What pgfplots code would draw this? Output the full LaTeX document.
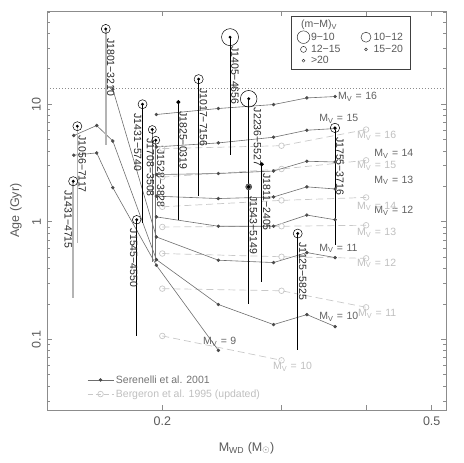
\documentclass[border=0pt]{standalone}
\usepackage{pgfplots}
\pgfplotsset{compat=1.18}
\usepackage{fontspec}
\setmainfont{Liberation Sans}

\definecolor{sertrk}{HTML}{6E6E6E}
\definecolor{serdot}{HTML}{4A4A4A}
\definecolor{bertrk}{HTML}{C8C8C8}
\definecolor{axgray}{HTML}{8C8C8C}
\definecolor{txtgray}{HTML}{5A5A5A}
\definecolor{objgray}{HTML}{B4B4B4}

% circle with a dot in the middle: radius = mark size
\pgfdeclareplotmark{cdot}{%
  \pgfpathcircle{\pgfpoint{0pt}{0pt}}{\pgfplotmarksize}\pgfusepathqstroke
  \pgfpathcircle{\pgfpoint{0pt}{0pt}}{1.6pt}\pgfusepathqfill}

\pgfplotsset{
  ser/.style={sertrk, line width=0.6pt, mark=*, mark size=1.4pt, mark options={serdot, solid}, forget plot},
  ber/.style={bertrk, line width=0.7pt, dash pattern=on 7pt off 4pt, mark=o, mark size=2.8pt, mark options={solid, bertrk}, forget plot},
  obj/.style={black, line width=0.6pt, mark=cdot, mark indices={1}, mark options={black, line width=0.5pt, solid}, forget plot},
}
\tikzset{
  lbl/.style={inner sep=0pt, font=\fontsize{10.5}{12}\selectfont, text=black!85},
  rlbl/.style={lbl, xshift=1pt, yshift=-9pt, rotate=-90, anchor=south west},
  llbl/.style={lbl, xshift=-1pt, yshift=-9pt, rotate=-90, anchor=north west},
  sl/.style={inner sep=0pt, anchor=west, font=\fontsize{10.5}{12}\selectfont, text=black!62},
  bl/.style={inner sep=0pt, anchor=west, font=\fontsize{10.5}{12}\selectfont, text=black!25},
}
\newcommand{\MV}[1]{M\textsubscript{V}\,\,=\,\,#1}

\begin{document}
\begin{tikzpicture}
\begin{axis}[
  at={(0,0)}, anchor=south west,
  scale only axis, width=399pt, height=399pt,
  xmode=log, ymode=log,
  xmin=0.1351, xmax=0.5249, ymin=0.0251, ymax=61.9,
  xtick={0.2,0.3,0.4,0.5}, xticklabels={0.2,,,0.5}, minor xtick={},
  ytick={0.1,1,10}, yticklabels={0.1,1,10},
  minor ytick={0.03,0.04,0.05,0.06,0.07,0.08,0.09,0.2,0.3,0.4,0.5,0.6,0.7,0.8,0.9,2,3,4,5,6,7,8,9,20,30,40,50,60},
  tick align=inside, tick pos=both, major tick length=5pt, minor tick length=3pt,
  axis line style={axgray, line width=0.8pt},
  tick style={axgray, line width=0.6pt},
  ticklabel style={font=\fontsize{12.5}{14}\selectfont, text=txtgray, inner sep=0pt},
  xticklabel shift=7pt,
  yticklabel style={rotate=90, anchor=south},
  yticklabel shift=6pt,
  xlabel={M\textsubscript{WD} (M$_{\odot}$)},
  ylabel={Age (Gyr)},
  label style={font=\fontsize{12.5}{14}\selectfont, text=txtgray},
  xlabel style={at={(axis description cs:0.5,-0.095)}, anchor=center},
  ylabel style={at={(axis description cs:-0.078,0.5)}, anchor=center},
  legend style={draw=none, fill=none, at={(rel axis cs:0.1003,0.0576)}, anchor=west,
    font=\fontsize{10.5}{12}\selectfont, inner sep=0pt, row sep=1pt, cells={anchor=west}},
  legend image code/.code={\draw[mark repeat=2, mark phase=2, #1] plot coordinates {(0pt,0pt) (13pt,0pt) (26pt,0pt)};},
]

% age of the universe
\addplot[black!45, line width=0.6pt, dash pattern=on 0.8pt off 2.2pt, forget plot]
  coordinates {(0.1351,13.7) (0.5249,13.7)};

% Bergeron et al. 1995 (updated)
\addplot[ber] coordinates {(0.2,4.19) (0.3,4.43) (0.4,6.08)};
\addplot[ber] coordinates {(0.2,2.40) (0.3,2.81) (0.4,3.33)};
\addplot[ber] coordinates {(0.2,1.34) (0.3,1.52) (0.4,1.61)};
\addplot[ber] coordinates {(0.2,0.903) (0.3,0.916) (0.4,0.934)};
\addplot[ber] coordinates {(0.2,0.537) (0.3,0.504) (0.4,0.489)};
\addplot[ber] coordinates {(0.2,0.270) (0.3,0.259) (0.4,0.1875)};
\addplot[ber] coordinates {(0.2,0.107) (0.3,0.0664)};

% Serenelli et al. 2001
\addplot[ser] coordinates {(0.196,8.16) (0.242,9.18) (0.292,9.92) (0.327,11.29) (0.360,11.60)};
\addplot[ser] coordinates {(0.196,4.33) (0.242,4.68) (0.292,5.23) (0.327,6.00) (0.360,6.20)};
\addplot[ser] coordinates {(0.196,2.52) (0.242,2.57) (0.292,2.70) (0.327,3.27) (0.360,3.22)};
\addplot[ser] coordinates {(0.196,1.65) (0.242,1.575) (0.292,1.625) (0.327,1.98) (0.360,1.90)};
\addplot[ser] coordinates {(0.196,1.10) (0.242,0.916) (0.292,0.916) (0.327,1.14) (0.360,1.04)};
\addplot[ser] coordinates {(0.169,13.4) (0.196,0.743) (0.242,0.471) (0.292,0.450) (0.327,0.547) (0.360,0.496)};
\addplot[ser] coordinates {(0.148,5.41) (0.160,6.58) (0.169,4.86) (0.196,0.477) (0.242,0.198) (0.292,0.1336) (0.327,0.1625) (0.360,0.1285)};
\addplot[ser] coordinates {(0.148,3.68) (0.160,3.85) (0.169,1.95) (0.196,0.427) (0.242,0.0807)};

\node[sl] at (rel axis cs:0.729,0.785) {\MV{16}};
\node[sl] at (rel axis cs:0.682,0.729) {\MV{15}};
\node[sl] at (rel axis cs:0.820,0.642) {\MV{14}};
\node[sl] at (rel axis cs:0.820,0.576) {\MV{13}};
\node[sl] at (rel axis cs:0.820,0.4995) {\MV{12}};
\node[sl] at (rel axis cs:0.682,0.405) {\MV{11}};
\node[sl] at (rel axis cs:0.682,0.233) {\MV{10}};
\node[sl] at (rel axis cs:0.391,0.171) {\MV{9}};
\node[bl] at (rel axis cs:0.777,0.687) {\MV{16}};
\node[bl] at (rel axis cs:0.777,0.612) {\MV{15}};
\node[bl] at (rel axis cs:0.777,0.510) {\MV{14}};
\node[bl] at (rel axis cs:0.777,0.444) {\MV{13}};
\node[bl] at (rel axis cs:0.777,0.368) {\MV{12}};
\node[bl] at (rel axis cs:0.779,0.241) {\MV{11}};
\node[bl] at (rel axis cs:0.566,0.1085) {\MV{10}};

% white dwarfs: marker at the top, line down to the lower age limit
\addplot[obj, objgray, line width=1.6pt, mark size=4.5pt] coordinates {(0.165,43.6) (0.165,4.47)};
\addplot[obj, objgray, line width=1.6pt, mark size=4.5pt] coordinates {(0.1498,6.49) (0.1498,0.660)};
\addplot[obj, objgray, line width=1.6pt, mark size=4.6pt] coordinates {(0.1477,2.21) (0.1477,0.2236)};
\addplot[obj, mark size=4.5pt] coordinates {(0.187,9.98) (0.187,0.971)};
\addplot[obj, black!55, line width=1pt, mark size=4pt] coordinates {(0.1933,6.08) (0.1933,0.455)};
\addplot[obj, black!55, line width=1pt, mark size=4pt] coordinates {(0.1956,4.93) (0.1956,0.455)};
\addplot[obj, mark size=4.3pt] coordinates {(0.1833,1.04) (0.1833,0.107)};
\addplot[obj, mark=*, mark size=1.8pt] coordinates {(0.2112,10.4) (0.2112,1.03)};
\addplot[obj, mark size=4.6pt] coordinates {(0.2263,16.3) (0.2263,1.65)};
\addplot[obj, mark size=8.5pt] coordinates {(0.2518,37.1) (0.2518,3.73)};
\addplot[obj, mark size=8.3pt] coordinates {(0.2683,11.1) (0.2683,0.2015)};
\addplot[obj, mark=*, mark size=3pt, mark options={fill=black!55, draw=black!70}] coordinates {(0.2683,1.98) (0.2683,1.0)};
\addplot[only marks, mark=*, mark size=1.6pt, black, forget plot] coordinates {(0.2683,1.98)};
\addplot[obj, mark=*, mark size=1.8pt] coordinates {(0.2805,3.08) (0.2805,0.308)};
\addplot[obj, mark size=4.7pt] coordinates {(0.3598,6.28) (0.3598,0.631)};
\addplot[obj, mark size=4.5pt] coordinates {(0.3170,0.794) (0.3170,0.0808)};

\node[rlbl] at (axis cs:0.165,43.6) {J1801−3210};
\node[rlbl] at (axis cs:0.1498,6.49) {J1056−7117};
\node[llbl] at (axis cs:0.1477,2.21) {J1431−4715};
\node[llbl] at (axis cs:0.187,9.98) {J1431−5740};
\node[llbl, yshift=3pt] at (axis cs:0.1933,6.08) {J1708−3508};
\node[rlbl] at (axis cs:0.1956,4.93) {J1528−3828};
\node[llbl, yshift=2pt] at (axis cs:0.1833,1.04) {J1545−4550};
\node[rlbl] at (axis cs:0.2112,10.4) {J1825−0319};
\node[rlbl] at (axis cs:0.2263,16.3) {J1017−7156};
\node[rlbl] at (axis cs:0.2518,37.1) {J1405−4656};
\node[rlbl, yshift=4pt] at (axis cs:0.2683,11.1) {J2236−5527};
\node[rlbl] at (axis cs:0.2683,1.98) {J1543−5149};
\node[rlbl] at (axis cs:0.2805,3.08) {J1811−2405};
\node[rlbl] at (axis cs:0.3598,6.28) {J1755−3716};
\node[rlbl] at (axis cs:0.3170,0.794) {J1125−5825};

\addlegendimage{sertrk, line width=0.6pt, mark=*, mark size=1.4pt, mark options={serdot}}
\addlegendentry[text=black!55]{Serenelli et al. 2001}
\addlegendimage{bertrk, line width=0.7pt, dash pattern=on 5pt off 3pt, mark=o, mark size=2.8pt, mark options={solid, bertrk}}
\addlegendentry[text=black!25]{Bergeron et al. 1995 (updated)}
\end{axis}

% legend for the distance modulus
\begin{axis}[
  at={(0,0)}, anchor=south west,
  scale only axis, width=399pt, height=399pt,
  hide axis, xmin=0, xmax=1, ymin=0, ymax=1,
  legend columns=2,
  legend style={at={(rel axis cs:0.6108,0.9875)}, anchor=north west,
    draw=black!75, line width=0.6pt, fill=white,
    inner xsep=6pt, inner ysep=3pt, row sep=0.5pt,
    font=\fontsize{10.5}{12}\selectfont, text=txtgray,
    nodes={inner sep=1pt},
    /tikz/every even column/.append style={column sep=18pt}},
  legend cell align=left,
  legend image code/.code={\path[draw=none, fill=none] (-6.5pt,-4pt) rectangle (6.5pt,4pt); \draw[#1] plot coordinates {(0pt,0pt)};},
]
\addlegendimage{empty legend}
\addlegendentry{\hspace*{-10pt}(m−M)\textsubscript{V}}
\addlegendimage{empty legend}
\addlegendentry{}
\addlegendimage{only marks, mark=o, mark size=6.3pt, black!80, line width=0.5pt}
\addlegendentry{9−10}
\addlegendimage{only marks, mark=o, mark size=5pt, black!80, line width=0.5pt}
\addlegendentry{10−12}
\addlegendimage{only marks, mark=o, mark size=3pt, black!80, line width=0.5pt}
\addlegendentry{12−15}
\addlegendimage{only marks, mark=o, mark size=1.4pt, black!80, line width=0.5pt}
\addlegendentry{15−20}
\addlegendimage{only marks, mark=o, mark size=1.4pt, black!80, line width=0.5pt}
\addlegendentry{>20}
\end{axis}

\pgfresetboundingbox
\path[use as bounding box] (-47pt,-53pt) rectangle (416pt,410pt);
\end{tikzpicture}
\end{document}
